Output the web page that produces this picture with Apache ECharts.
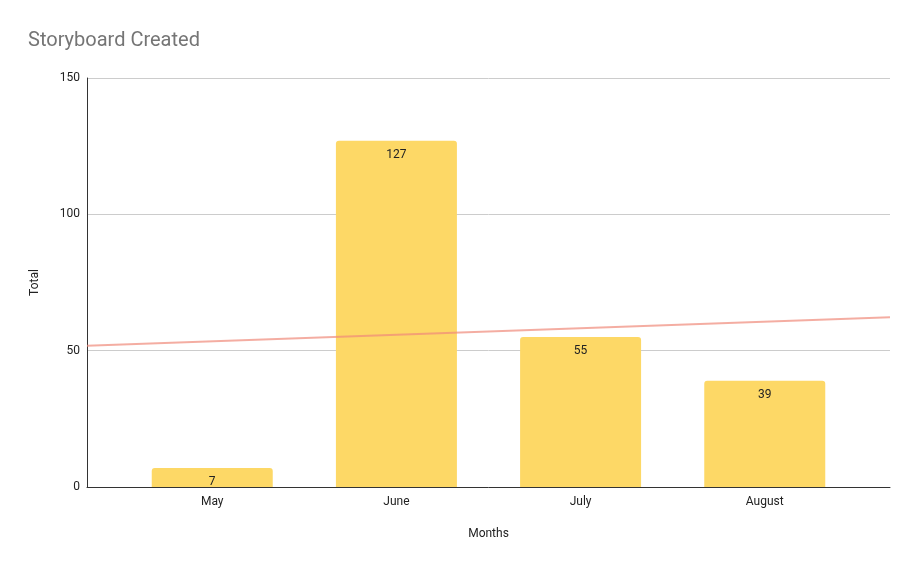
<!DOCTYPE html>
<html>
<head>
<meta charset="utf-8">
<script src="https://cdn.jsdelivr.net/npm/echarts@6/dist/echarts.min.js"></script>
<style>
  html, body { margin: 0; padding: 0; background: #fff; }
  #app { width: 919px; height: 568px; }
</style>
</head>
<body>
<div id="app"></div>
<script>
const months = ['May', 'June', 'July', 'August'];
const totals = [7, 127, 55, 39];
const yTicks = [0, 50, 100, 150];

// categories sit at 1..n on a value axis, with some padding at both ends
const xMin = 0.32;
const xMax = months.length + 0.68;
const positions = months.map((_, i) => i + 1);

// least squares trendline over category index 1..n
const trend = values => {
  const n = values.length;
  const mx = positions.reduce((a, b) => a + b, 0) / n;
  const my = values.reduce((a, b) => a + b, 0) / n;
  let num = 0, den = 0;
  positions.forEach((x, i) => { num += (x - mx) * (values[i] - my); den += (x - mx) * (x - mx); });
  const slope = num / den;
  const at = x => my + slope * (x - mx);
  return [[xMin, at(xMin)], [xMax, at(xMax)]];
};

const chart = echarts.init(document.getElementById('app'));
chart.setOption({
  animation: false,
  title: {
    text: 'Storyboard Created',
    left: 23,
    top: 26,
    textStyle: { fontFamily: 'Roboto', fontSize: 20, fontWeight: 'normal', color: '#757575' }
  },
  grid: { left: 87, right: 29, top: 78, bottom: 81 },
  xAxis: {
    type: 'value',
    min: xMin,
    max: xMax,
    name: 'Months',
    nameLocation: 'middle',
    nameGap: 41,
    nameTextStyle: { fontFamily: 'Roboto', fontSize: 12, color: '#222' },
    axisLine: { show: true, onZero: false, lineStyle: { color: '#333', width: 1 } },
    axisTick: { show: false },
    splitLine: { show: false },
    axisLabel: {
      customValues: positions,
      formatter: v => months[Math.round(v) - 1] || '',
      fontFamily: 'Roboto', fontSize: 12, color: '#222', margin: 9
    }
  },
  yAxis: {
    type: 'value',
    min: yTicks[0],
    max: yTicks[yTicks.length - 1],
    interval: 50,
    name: 'Total',
    nameLocation: 'middle',
    nameGap: 46,
    nameTextStyle: { fontFamily: 'Roboto', fontSize: 12, color: '#222' },
    axisLine: { show: true, lineStyle: { color: '#333', width: 1 } },
    axisTick: { show: false },
    axisLabel: { fontFamily: 'Roboto', fontSize: 12, color: '#222', margin: 7 },
    splitLine: { lineStyle: { color: '#cccccc' } }
  },
  series: [
    {
      type: 'bar',
      data: totals.map((v, i) => [positions[i], v]),
      barWidth: 121,
      itemStyle: { color: '#fdd866', borderRadius: [3, 3, 0, 0] },
      label: {
        show: true,
        position: 'insideTop',
        distance: 8,
        formatter: p => p.value[1],
        fontFamily: 'Roboto',
        fontSize: 12,
        color: '#222'
      },
      z: 2
    },
    {
      type: 'line',
      data: trend(totals),
      symbol: 'none',
      lineStyle: { color: '#f08a7a', width: 2, opacity: 0.7 },
      silent: true,
      z: 3
    }
  ]
});
</script>
</body>
</html>
